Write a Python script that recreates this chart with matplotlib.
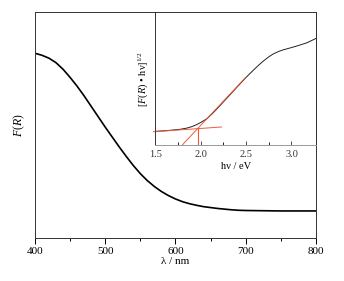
import numpy as np
import matplotlib
matplotlib.use("Agg")
import matplotlib.pyplot as plt

plt.rcParams["font.family"] = ["Liberation Serif", "DejaVu Serif"]
plt.rcParams["mathtext.fontset"] = "custom"
plt.rcParams["mathtext.rm"] = "Liberation Serif"
plt.rcParams["mathtext.it"] = "Liberation Serif:italic"

# main spectrum, F(R) vs wavelength (arbitrary units)
wavelength = [400, 410, 420, 430, 440, 450, 460, 470, 480, 490, 500, 510, 520, 530,
              540, 550, 560, 570, 580, 590, 600, 610, 620, 630, 640, 650, 660, 670,
              680, 690, 700, 750, 800]
f_r = [0.819, 0.810, 0.797, 0.777, 0.748, 0.712, 0.673, 0.630, 0.584, 0.538, 0.492,
       0.448, 0.404, 0.362, 0.322, 0.286, 0.255, 0.229, 0.207, 0.189, 0.174, 0.162,
       0.153, 0.146, 0.140, 0.136, 0.132, 0.129, 0.126, 0.124, 0.123, 0.121, 0.121]

# inset, Tauc plot
hv = [1.48, 1.55, 1.65, 1.77, 1.85, 1.90, 1.95, 2.00, 2.07, 2.14, 2.22, 2.29, 2.40,
      2.50, 2.58, 2.64, 2.69, 2.75, 2.80, 2.86, 2.91, 3.00, 3.06, 3.17, 3.27]
tauc = [0.100, 0.103, 0.108, 0.116, 0.126, 0.136, 0.150, 0.168, 0.197, 0.243, 0.301,
        0.353, 0.435, 0.509, 0.563, 0.602, 0.632, 0.664, 0.686, 0.705, 0.717, 0.734,
        0.746, 0.770, 0.803]

# fitted lines (red)
tangent_x = [1.80, 2.49]
tangent_y = [0.0, 0.505]
base_x = [1.48, 2.23]
base_y = [0.098, 0.134]
gap_x = [1.97, 1.97]
gap_y = [0.0, 0.121]

fig = plt.figure(figsize=(3.44, 2.81), dpi=100)
ax = fig.add_axes([0.1017, 0.152, 0.8169, 0.804])
ax.plot(wavelength, f_r, color="black", lw=1.2)
ax.set_xlim(400, 800)
ax.set_ylim(0, 1)
ax.set_xticks([400, 500, 600, 700, 800])
ax.set_xticks([450, 550, 650, 750], minor=True)
ax.set_yticks([])
ax.tick_params(axis="x", direction="out", length=4, width=0.7, labelsize=8, pad=2)
ax.tick_params(axis="x", which="minor", direction="out", length=2.5, width=0.7)
for s in ax.spines.values():
    s.set_linewidth(0.7)
    s.set_color("#333333")
ax.set_xlabel("λ / nm", fontsize=8, labelpad=1)
ax.set_ylabel("$F$($R$)", fontsize=8.5, labelpad=6)

ins = fig.add_axes([0.4515, 0.485, 0.467, 0.471])
ins.plot(hv, tauc, color="#222222", lw=0.7)
ins.plot(tangent_x, tangent_y, color="#f05a3a", lw=0.7)
ins.plot(base_x, base_y, color="#f05a3a", lw=0.7, clip_on=False)
ins.plot(gap_x, gap_y, color="#f05a3a", lw=0.8)
ins.set_xlim(1.5, 3.27)
ins.set_ylim(0, 1)
ins.set_xticks([1.5, 2.0, 2.5, 3.0])
ins.set_xticks([1.75, 2.25, 2.75], minor=True)
ins.set_yticks([])
ins.tick_params(axis="x", direction="in", length=3, width=0.6, labelsize=7.5,
                pad=4, colors="#333333")
ins.tick_params(axis="x", which="minor", direction="in", length=2, width=0.6)
for s in ins.spines.values():
    s.set_linewidth(0.7)
    s.set_color("#333333")
ins.spines["bottom"].set_color("#999999")
ins.set_xlabel("hν / eV", fontsize=7.5, labelpad=2)
ins.set_ylabel("[$F$($R$) • hν]$^{1/2}$", fontsize=7.5, labelpad=4)

fig.savefig("out.png", dpi=100)
